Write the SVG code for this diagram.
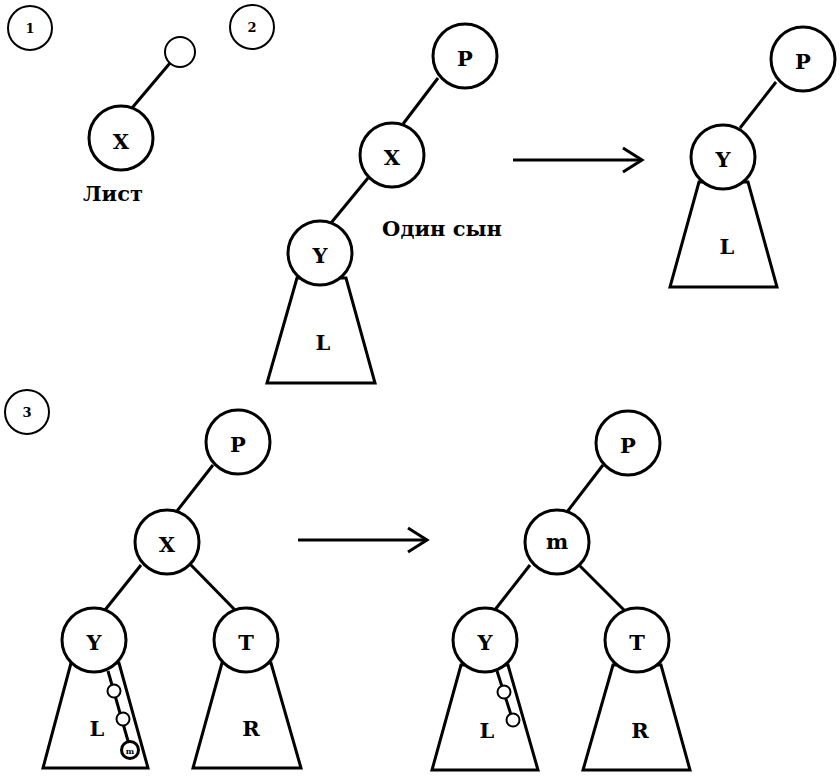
<svg xmlns="http://www.w3.org/2000/svg" width="840" height="782" viewBox="0 0 840 782">
<style>
.n{fill:#fff;stroke:#000;stroke-width:3}
.s{fill:#fff;stroke:#000;stroke-width:2}
.e{stroke:#000;stroke-width:3;fill:none}
.t{font-family:"DejaVu Serif","Liberation Serif",serif;font-weight:bold;font-size:21px;text-anchor:middle;dominant-baseline:central}
.lb{font-family:"DejaVu Serif","Liberation Serif",serif;font-weight:bold;font-size:13px;text-anchor:middle;dominant-baseline:central}
</style>
<rect width="840" height="782" fill="#fff"/>
<g id="connectors">
<line class="e" x1="132" y1="108" x2="170" y2="63"/>
<line class="e" x1="438" y1="78" x2="403" y2="124"/>
<line class="e" x1="368" y1="178" x2="331" y2="223"/>
<line class="e" x1="776" y1="82" x2="740" y2="128"/>
<line class="e" x1="213" y1="465" x2="177" y2="511"/>
<line class="e" x1="141" y1="565" x2="105" y2="610"/>
<line class="e" x1="189" y1="563" x2="235" y2="610"/>
<line class="e" x1="603" y1="465" x2="567" y2="512"/>
<line class="e" x1="530" y1="565" x2="494" y2="611"/>
<line class="e" x1="579" y1="565" x2="625" y2="611"/>
<line class="e" x1="108" y1="671" x2="130" y2="748"/>
<line class="e" x1="497" y1="671" x2="513" y2="721"/>
<g id="arrow1"><line class="e" x1="513" y1="160" x2="642" y2="160"/><polyline class="e" points="623,148 642,160 623,172"/></g>
<g id="arrow2"><line class="e" x1="298" y1="540" x2="427" y2="540"/><polyline class="e" points="408,528 427,540 408,552"/></g>
</g>
<g id="label1"><circle class="s" cx="30" cy="28" r="22"/><text class="lb" x="30" y="28">1</text></g>
<g id="label2"><circle class="s" cx="252" cy="27" r="22"/><text class="lb" x="252" y="27">2</text></g>
<g id="label3"><circle class="s" cx="27" cy="412" r="22"/><text class="lb" x="27" y="412">3</text></g>
<g id="n1-empty"><circle class="s" cx="180" cy="52" r="15"/></g>
<g id="n1-X"><circle class="n" cx="121" cy="138" r="32"/><text class="t" x="121" y="141">X</text></g>
<text class="t" x="113" y="193" font-size="22">Лист</text>
<g id="n2-P"><circle class="n" cx="465" cy="56" r="32"/><text class="t" x="465" y="58">P</text></g>
<g id="n2-X"><circle class="n" cx="392" cy="155" r="32"/><text class="t" x="392" y="157">X</text></g>
<g id="n2-L"><polygon class="e" points="297,278 267,383 375,383 346,278"/><text class="t" x="323" y="342">L</text></g>
<g id="n2-Y"><circle class="n" cx="320" cy="253" r="32"/><text class="t" x="320" y="255">Y</text></g>
<text class="t" x="442" y="228">Один сын</text>
<g id="n2r-P"><circle class="n" cx="803" cy="59" r="32"/><text class="t" x="803" y="61">P</text></g>
<g id="n2r-L"><polygon class="e" points="699,182 670,287 777,287 748,182"/><text class="t" x="727" y="246">L</text></g>
<g id="n2r-Y"><circle class="n" cx="723" cy="157" r="32"/><text class="t" x="723" y="159">Y</text></g>
<g id="n3-P"><circle class="n" cx="238" cy="442" r="32"/><text class="t" x="238" y="444">P</text></g>
<g id="n3-X"><circle class="n" cx="167" cy="542" r="32"/><text class="t" x="167" y="544">X</text></g>
<g id="n3-L"><polygon class="e" points="71,663 43,768 148,768 119,663"/><text class="t" x="97" y="728">L</text></g>
<g id="n3-R"><polygon class="e" points="222,663 193,768 301,768 271,663"/><text class="t" x="251" y="728">R</text></g>
<g id="n3-Y"><circle class="n" cx="94" cy="640" r="32"/><text class="t" x="94" y="642">Y</text></g>
<g id="n3-T"><circle class="n" cx="246" cy="640" r="32"/><text class="t" x="246" y="642">T</text></g>
<g id="n3-c1"><circle class="s" cx="114" cy="691" r="6.5"/></g>
<g id="n3-c2"><circle class="s" cx="123" cy="719" r="6.5"/></g>
<g id="n3-m"><circle class="n" cx="130" cy="750" r="8.5"/><text x="130" y="751" font-family="DejaVu Serif, serif" font-weight="bold" font-size="8" text-anchor="middle" dominant-baseline="central">m</text></g>
<g id="n3r-P"><circle class="n" cx="628" cy="443" r="32"/><text class="t" x="628" y="445">P</text></g>
<g id="n3r-m"><circle class="n" cx="557" cy="542" r="32"/><text class="t" x="557" y="541">m</text></g>
<g id="n3r-L"><polygon class="e" points="461,665 432,770 538,770 508,665"/><text class="t" x="487" y="730">L</text></g>
<g id="n3r-R"><polygon class="e" points="613,665 583,770 690,770 661,665"/><text class="t" x="640" y="730">R</text></g>
<g id="n3r-Y"><circle class="n" cx="485" cy="640" r="32"/><text class="t" x="485" y="642">Y</text></g>
<g id="n3r-T"><circle class="n" cx="637" cy="640" r="32"/><text class="t" x="637" y="642">T</text></g>
<g id="n3r-c1"><circle class="s" cx="504" cy="692" r="6.5"/></g>
<g id="n3r-c2"><circle class="s" cx="513" cy="720" r="6.5"/></g>
</svg>
